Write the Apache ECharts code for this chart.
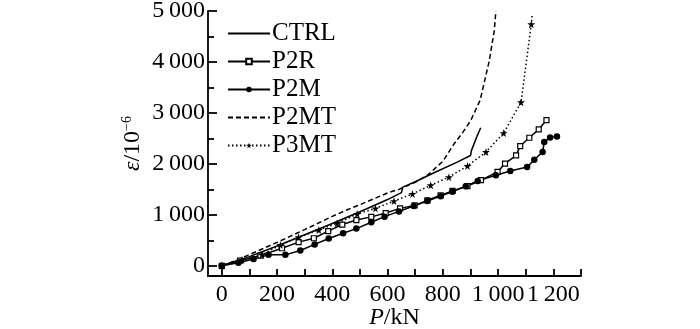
<!DOCTYPE html>
<html>
<head>
<meta charset="utf-8">
<script src="https://cdn.jsdelivr.net/npm/echarts@6/dist/echarts.min.js"></script>
<style>
  html, body { margin: 0; padding: 0; background: #fff; }
  #chart { width: 700px; height: 329px; }
</style>
</head>
<body>
<div id="chart"></div>
<script>
// Load P (kN) against strain ε (10^-6) for the five specimens
const seriesNames = ['CTRL', 'P2R', 'P2M', 'P2MT', 'P3MT'];

const CTRL = [[0,0],[100,180],[200,390],[300,610],[400,830],[500,1060],[600,1300],[650,1435],
  [655,1440],[655,1545],[700,1650],[770,1830],[850,2030],[900,2165],[903,2175],[904,2270],
  [925,2560],[937,2710]];

const P2R = [[0,0],[66,100],[140,200],[218,345],[278,465],[333,541],[385,680],[436,810],
  [487,898],[541,960],[593,1035],[645,1127],[698,1185],[744,1285],[792,1385],[835,1470],
  [889,1565],[938,1680],[998,1842],[1025,2006],[1065,2168],[1080,2350],[1113,2513],
  [1147,2676],[1175,2860]];

const P2M = [[0,0],[60,60],[115,135],[169,215],[230,215],[284,300],[336,420],[387,535],
  [439,638],[487,730],[541,855],[589,965],[641,1068],[695,1172],[744,1270],[792,1367],
  [835,1455],[883,1562],[926,1666],[992,1777],[1044,1861],[1105,1940],[1131,2083],
  [1161,2232],[1167,2428],[1188,2520],[1213,2539]];

const P2MT = [[0,0],[50,100],[100,220],[200,460],[300,710],[400,970],[454,1100],[500,1200],
  [600,1430],[641,1500],[700,1640],[744,1777],[800,2050],[841,2396],[870,2600],[901,2852],
  [935,3250],[968,4023],[986,4609],[992,5000]];

const P3MT = [[0,0],[73,117],[145,215],[212,410],[278,560],[351,703],[417,834],[490,1016],
  [556,1126],[623,1270],[690,1410],[756,1580],[822,1740],[889,1960],[956,2233],[1020,2604],
  [1083,3209],[1120,4740]];
const P3MTend = [1124, 4950];

const xTicks = [0,100,200,300,400,500,600,700,800,900,1000,1100,1200,1300];
const xLabels = [0,200,400,600,800,1000,1200];
const yMajor = [0,1000,2000,3000,4000,5000];
const yMinor = [500,1500,2500,3500,4500];

const xRange = { min: -50, max: 1300 };
const yRange = { min: -200, max: 5000 };

const starPath = 'path://M50,0 L61,35 L98,35 L68,57 L79,91 L50,70 L21,91 L32,57 L2,35 L39,35 Z';
const serif = '"Liberation Serif", "Times New Roman", serif';
const ink = '#000';

function groupThousands(v) {
  const s = String(v);
  return s.length > 3 ? s.slice(0, s.length - 3) + '\u2009' + s.slice(-3) : s;
}

const chart = echarts.init(document.getElementById('chart'), null, { renderer: 'canvas' });

// line-only legend entries hide the marker that the legend would otherwise add
const legendData = seriesNames.map(function (n) {
  return (n === 'CTRL' || n === 'P2MT') ? { name: n, itemStyle: { opacity: 0 } } : { name: n };
});

function axisStroke() { return { color: ink, width: 1.8 }; }
function hiddenParts() {
  return {
    axisLine: { show: false, onZero: false },
    axisTick: { show: false },
    axisLabel: { show: false },
    splitLine: { show: false }
  };
}

const option = {
  animation: false,
  backgroundColor: '#fff',
  grid: { left: 208, right: 119, top: 11, bottom: 53, containLabel: false, outerBoundsMode: 'none' },
  legend: {
    orient: 'vertical',
    left: 222,
    top: 16,
    itemWidth: 42,
    itemHeight: 7,
    itemGap: 3,
    data: legendData,
    textStyle: { fontFamily: serif, fontSize: 25, color: ink, lineHeight: 20, padding: [0, 0, 0, -3] }
  },
  xAxis: [{
    // scale, ticks and tick labels
    type: 'value',
    min: xRange.min,
    max: xRange.max,
    axisLine: { show: true, onZero: false, lineStyle: axisStroke() },
    axisTick: { show: true, inside: true, length: 7, customValues: xTicks, lineStyle: axisStroke() },
    axisLabel: { customValues: xLabels, fontFamily: serif, fontSize: 24, color: ink, margin: 7, formatter: groupThousands },
    splitLine: { show: false }
  }, Object.assign({
    // axis title
    type: 'value',
    position: 'bottom',
    min: xRange.min,
    max: xRange.max,
    name: '{i|P}/kN',
    nameLocation: 'middle',
    nameGap: 30,
    nameTextStyle: {
      fontFamily: serif, fontSize: 24, color: ink,
      rich: { i: { fontFamily: serif, fontSize: 24, fontStyle: 'italic', color: ink } }
    }
  }, hiddenParts())],
  yAxis: [{
    // scale, major ticks and tick labels
    type: 'value',
    min: yRange.min,
    max: yRange.max,
    axisLine: { show: true, onZero: false, lineStyle: axisStroke() },
    axisTick: { show: true, inside: true, length: 9, customValues: yMajor, lineStyle: axisStroke() },
    axisLabel: { customValues: yMajor, fontFamily: serif, fontSize: 24, color: ink, margin: 3, formatter: groupThousands },
    splitLine: { show: false }
  }, {
    // minor ticks
    type: 'value',
    min: yRange.min,
    max: yRange.max,
    position: 'left',
    axisLine: { show: false, onZero: false },
    axisTick: { show: true, inside: true, length: 6, customValues: yMinor, lineStyle: axisStroke() },
    axisLabel: { show: false },
    splitLine: { show: false }
  }, Object.assign({
    // axis title
    type: 'value',
    min: yRange.min,
    max: yRange.max,
    position: 'left',
    name: '{i|ε}/10{s|−6}',
    nameLocation: 'middle',
    nameRotate: 90,
    nameGap: 62,
    nameTextStyle: {
      fontFamily: serif, fontSize: 24, color: ink,
      rich: {
        i: { fontFamily: serif, fontSize: 24, fontStyle: 'italic', color: ink },
        s: { fontFamily: serif, fontSize: 14, color: ink, verticalAlign: 'top', lineHeight: 26 }
      }
    }
  }, hiddenParts())],
  series: [
    {
      name: 'CTRL', type: 'line', data: CTRL, symbol: 'none',
      lineStyle: { color: ink, width: 1.5 }, itemStyle: { color: ink }
    },
    {
      name: 'P2R', type: 'line', data: P2R, symbol: 'rect', symbolSize: 5,
      lineStyle: { color: ink, width: 1.5 },
      itemStyle: { color: '#fff', borderColor: ink, borderWidth: 1.2 }
    },
    {
      name: 'P2M', type: 'line', data: P2M, symbol: 'circle', symbolSize: 6.5,
      lineStyle: { color: ink, width: 1.5 }, itemStyle: { color: ink }
    },
    {
      name: 'P2MT', type: 'line', data: P2MT, symbol: 'none',
      lineStyle: { color: ink, width: 1.5, type: [5, 3] }, itemStyle: { color: ink }
    },
    {
      name: 'P3MT', type: 'line',
      data: P3MT.concat([{ value: P3MTend, symbol: 'none' }]),
      symbol: starPath, symbolSize: 8,
      lineStyle: { color: ink, width: 1.5, type: [1.5, 2.5] }, itemStyle: { color: ink }
    }
  ]
};

chart.setOption(option);
</script>
</body>
</html>
